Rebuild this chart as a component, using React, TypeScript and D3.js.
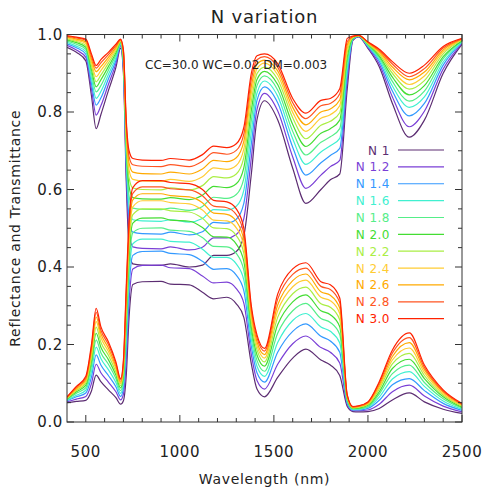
import React from 'react';
import * as d3 from 'd3';

const nLabels = ['N 1', 'N 1.2', 'N 1.4', 'N 1.6', 'N 1.8', 'N 2.0', 'N 2.2', 'N 2.4', 'N 2.6', 'N 2.8', 'N 3.0'];
const colors = ['#5c2d72', '#7a3fd6', '#3399ff', '#40f0d0', '#55ee88', '#44dd33', '#aaee44', '#ffcc33', '#ffaa00', '#ff5522', '#ff2200'];

const wavelengths = [400, 450, 500, 530, 555, 580, 620, 660, 685, 700, 715, 730, 750, 800, 900, 950, 1050, 1120, 1180, 1250, 1300, 1340, 1380, 1410, 1450, 1520, 1600, 1670, 1750, 1800, 1850, 1890, 1920, 1950, 2000, 2060, 2130, 2220, 2300, 2400, 2500];

// one row per wavelength, columns N 1 ... N 3.0
const reflectanceRows = [
  [.050, .052, .055, .056, .058, .060, .061, .062, .063, .064, .065],
  [.053, .059, .065, .069, .074, .078, .081, .084, .087, .090, .092],
  [.056, .066, .075, .082, .089, .095, .101, .106, .110, .114, .118],
  [.080, .099, .116, .130, .144, .156, .166, .176, .184, .193, .200],
  [.121, .149, .173, .193, .212, .229, .245, .259, .271, .283, .293],
  [.104, .127, .147, .164, .179, .193, .206, .218, .228, .237, .246],
  [.083, .103, .120, .135, .149, .161, .172, .182, .191, .200, .207],
  [.063, .078, .091, .102, .112, .121, .129, .137, .143, .150, .155],
  [.046, .057, .066, .074, .081, .088, .094, .099, .103, .108, .112],
  [.055, .072, .087, .099, .111, .121, .131, .139, .146, .154, .160],
  [.120, .157, .189, .217, .242, .265, .286, .304, .320, .336, .350],
  [.270, .310, .345, .375, .403, .428, .450, .470, .488, .505, .520],
  [.355, .395, .430, .460, .488, .513, .535, .555, .573, .590, .605],
  [.362, .404, .440, .472, .500, .526, .550, .571, .589, .607, .623],
  [.363, .405, .441, .472, .501, .527, .550, .571, .589, .607, .623],
  [.356, .398, .435, .466, .495, .521, .545, .566, .584, .602, .618],
  [.354, .396, .432, .464, .492, .518, .542, .563, .581, .599, .615],
  [.335, .377, .415, .446, .476, .502, .526, .547, .566, .584, .600],
  [.318, .359, .394, .425, .453, .478, .501, .521, .539, .557, .572],
  [.322, .361, .396, .425, .452, .477, .499, .519, .536, .553, .568],
  [.305, .344, .379, .408, .435, .459, .481, .501, .518, .535, .550],
  [.270, .307, .339, .367, .392, .415, .436, .454, .470, .486, .500],
  [.150, .174, .195, .213, .230, .245, .258, .270, .281, .291, .300],
  [.085, .107, .127, .144, .159, .173, .186, .197, .207, .217, .225],
  [.065, .085, .103, .118, .131, .144, .155, .165, .174, .183, .190],
  [.115, .149, .180, .205, .229, .251, .270, .287, .302, .317, .330],
  [.165, .202, .234, .262, .287, .310, .331, .349, .365, .381, .395],
  [.188, .222, .253, .280, .306, .328, .348, .366, .382, .397, .411],
  [.160, .192, .221, .245, .267, .287, .305, .322, .336, .350, .362],
  [.147, .180, .209, .234, .257, .277, .296, .313, .327, .342, .354],
  [.120, .152, .180, .204, .226, .246, .264, .280, .294, .308, .320],
  [.040, .045, .049, .053, .056, .059, .062, .064, .066, .068, .070],
  [.027, .029, .031, .032, .034, .035, .036, .037, .038, .039, .040],
  [.026, .029, .031, .033, .034, .036, .038, .039, .040, .041, .042],
  [.027, .031, .035, .038, .040, .043, .045, .047, .049, .051, .052],
  [.035, .046, .056, .064, .072, .078, .085, .090, .095, .100, .104],
  [.057, .078, .096, .111, .125, .138, .150, .160, .169, .178, .186],
  [.075, .095, .112, .130, .147, .162, .177, .191, .205, .218, .230],
  [.052, .067, .081, .092, .102, .112, .120, .128, .135, .141, .147],
  [.033, .041, .048, .054, .060, .065, .069, .073, .077, .080, .083],
  [.022, .026, .030, .033, .036, .038, .041, .043, .045, .046, .048],
];

// 1 - transmittance, same layout
const oneMinusTRows = [
  [.967, .972, .976, .980, .983, .986, .989, .991, .993, .995, .997],
  [.954, .960, .966, .970, .975, .979, .982, .985, .988, .991, .993],
  [.932, .941, .949, .956, .962, .967, .972, .977, .981, .985, .988],
  [.842, .859, .874, .887, .899, .910, .920, .928, .936, .944, .950],
  [.757, .792, .818, .835, .852, .865, .878, .891, .904, .913, .920],
  [.793, .816, .836, .853, .868, .883, .895, .907, .917, .927, .935],
  [.855, .871, .885, .897, .908, .917, .926, .934, .941, .948, .954],
  [.915, .925, .933, .940, .947, .953, .958, .963, .967, .971, .975],
  [.965, .969, .972, .975, .977, .980, .982, .983, .985, .987, .988],
  [.900, .910, .918, .925, .932, .938, .943, .948, .952, .956, .960],
  [.620, .646, .668, .687, .705, .721, .735, .748, .759, .770, .780],
  [.450, .490, .525, .555, .583, .608, .630, .650, .668, .685, .700],
  [.408, .452, .490, .522, .552, .579, .604, .626, .645, .664, .680],
  [.405, .448, .486, .519, .549, .576, .600, .622, .641, .660, .676],
  [.404, .447, .485, .518, .548, .575, .599, .621, .640, .659, .675],
  [.408, .452, .490, .522, .552, .579, .604, .626, .645, .664, .680],
  [.400, .444, .483, .516, .546, .574, .599, .621, .640, .659, .676],
  [.405, .451, .491, .525, .556, .585, .610, .633, .653, .673, .690],
  [.430, .475, .515, .548, .580, .608, .633, .656, .675, .695, .712],
  [.430, .475, .513, .547, .577, .605, .630, .652, .672, .691, .708],
  [.440, .484, .523, .557, .587, .615, .640, .662, .682, .701, .718],
  [.480, .525, .564, .598, .628, .656, .682, .704, .724, .743, .760],
  [.640, .682, .718, .749, .778, .804, .827, .848, .866, .884, .900],
  [.780, .806, .830, .849, .868, .884, .899, .912, .924, .935, .945],
  [.829, .848, .865, .880, .893, .905, .916, .926, .934, .943, .950],
  [.780, .803, .824, .841, .857, .871, .884, .896, .906, .916, .925],
  [.655, .684, .709, .731, .750, .768, .785, .799, .812, .824, .835],
  [.564, .603, .637, .665, .689, .711, .731, .750, .767, .783, .797],
  [.600, .637, .669, .697, .722, .745, .766, .784, .800, .816, .830],
  [.625, .659, .688, .713, .736, .757, .776, .793, .808, .822, .835],
  [.640, .675, .706, .732, .757, .779, .798, .816, .831, .847, .860],
  [.860, .881, .899, .915, .929, .942, .954, .964, .973, .982, .990],
  [.985, .987, .988, .989, .990, .991, .992, .993, .994, .995, .996],
  [.994, .995, .995, .996, .996, .997, .997, .997, .998, .998, .998],
  [.964, .967, .969, .971, .973, .975, .976, .978, .979, .980, .981],
  [.917, .924, .931, .936, .941, .945, .949, .953, .956, .959, .962],
  [.822, .839, .854, .867, .879, .890, .900, .908, .916, .924, .930],
  [.735, .762, .790, .812, .828, .844, .859, .871, .883, .891, .900],
  [.779, .802, .822, .839, .854, .868, .881, .893, .903, .912, .921],
  [.900, .911, .921, .929, .937, .943, .950, .955, .960, .965, .969],
  [.975, .977, .980, .981, .983, .984, .986, .987, .988, .989, .990],
];

const xTickValues = [500, 1000, 1500, 2000, 2500];
const yTickValues = [0, 0.2, 0.4, 0.6, 0.8, 1.0];

const W = 483;
const H = 493;
const font = 'DejaVu Sans, sans-serif';

const App = () => {
  const x = d3.scaleLinear().domain([400, 2500]).range([67, 462]);
  const y = d3.scaleLinear().domain([0, 1]).range([422, 34.5]);
  const legendY = d3.scaleLinear().domain([0, 10]).range([150, 318.7]);

  const line = d3
    .line<[number, number]>()
    .x((d) => x(d[0]))
    .y((d) => y(d[1]))
    .curve(d3.curveMonotoneX);

  const series = (rows: number[][], k: number) =>
    wavelengths.map((w, i) => [w, rows[i][k]] as [number, number]);

  const minorX = d3.range(500, 2500, 100).filter((v) => v % 500 !== 0);
  const minorY = d3.range(0.05, 1, 0.05).filter((v) => Math.abs(v * 5 - Math.round(v * 5)) > 1e-6);

  const [x0, x1] = x.range();
  const [yb, yt] = y.range();

  return (
    <svg width={W} height={H} style={{ position: 'absolute', left: 0, top: 0, background: '#fff' }}>
      <defs>
        <clipPath id="plot">
          <rect x={x0} y={yt} width={x1 - x0} height={yb - yt} />
        </clipPath>
      </defs>

      <g clipPath="url(#plot)" fill="none" strokeWidth={1.2}>
        {nLabels.map((n, k) => (
          <g key={n} stroke={colors[k]}>
            <path d={line(series(reflectanceRows, k)) || ''} />
            <path d={line(series(oneMinusTRows, k)) || ''} />
          </g>
        ))}
      </g>

      {/* frame and ticks */}
      <g stroke="#333" strokeWidth={1} fill="none">
        <rect x={x0} y={yt} width={x1 - x0} height={yb - yt} />
        {xTickValues.map((v) => (
          <g key={'xt' + v}>
            <line x1={x(v)} x2={x(v)} y1={yb} y2={yb - 7} />
            <line x1={x(v)} x2={x(v)} y1={yt} y2={yt + 7} />
          </g>
        ))}
        {minorX.map((v) => (
          <g key={'xm' + v}>
            <line x1={x(v)} x2={x(v)} y1={yb} y2={yb - 4} />
            <line x1={x(v)} x2={x(v)} y1={yt} y2={yt + 4} />
          </g>
        ))}
        {yTickValues.map((v) => (
          <g key={'yt' + v}>
            <line x1={x0} x2={x0 + 7} y1={y(v)} y2={y(v)} />
            <line x1={x1} x2={x1 - 7} y1={y(v)} y2={y(v)} />
          </g>
        ))}
        {minorY.map((v) => (
          <g key={'ym' + v}>
            <line x1={x0} x2={x0 + 4} y1={y(v)} y2={y(v)} />
            <line x1={x1} x2={x1 - 4} y1={y(v)} y2={y(v)} />
          </g>
        ))}
      </g>

      <g fontFamily={font} fill="#222" fontSize={15}>
        {xTickValues.map((v) => (
          <text key={'xl' + v} x={x(v)} y={457} textAnchor="middle" letterSpacing={0.6}>
            {v}
          </text>
        ))}
        {yTickValues.map((v) => (
          <text key={'yl' + v} x={x0 - 4} y={y(v) + 5} textAnchor="end" letterSpacing={0.6}>
            {v.toFixed(1)}
          </text>
        ))}
        <text x={(x0 + x1) / 2} y={484} textAnchor="middle" fontSize={14} letterSpacing={0.7}>
          Wavelength (nm)
        </text>
        <text
          transform={`translate(20,${(yt + yb) / 2}) rotate(-90)`}
          textAnchor="middle"
          fontSize={14}
          letterSpacing={0.7}
        >
          Reflectance and Transmittance
        </text>
        <text x={(x0 + x1) / 2} y={23} textAnchor="middle" fontSize={18} letterSpacing={0.8}>
          N variation
        </text>
        <text x={145} y={69} fontSize={12}>
          CC=30.0 WC=0.02 DM=0.003
        </text>
      </g>

      <g fontFamily={font} fontSize={12}>
        {nLabels.map((n, k) => (
          <g key={'lg' + n}>
            <text x={390} y={legendY(k) + 4.5} textAnchor="end" fill={colors[k]} letterSpacing={0.5}>
              {n}
            </text>
            <line x1={398} x2={444} y1={legendY(k)} y2={legendY(k)} stroke={colors[k]} strokeWidth={1.2} />
          </g>
        ))}
      </g>
    </svg>
  );
};

export default App;
